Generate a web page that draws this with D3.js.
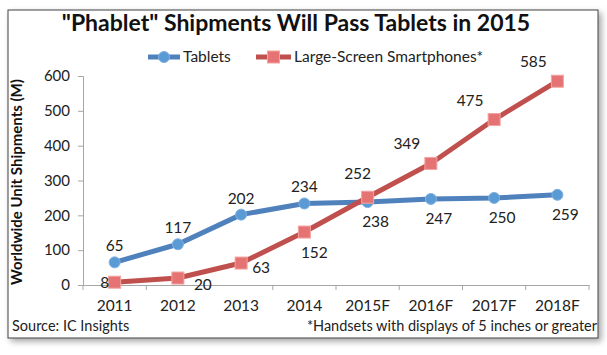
<!DOCTYPE html>
<html><head><meta charset="utf-8">
<script src="https://cdn.jsdelivr.net/npm/d3@7"></script>
<style>body{margin:0;background:#fff;}svg{display:block;font-family:Lato,"Open Sans",sans-serif;}</style>
</head><body>
<svg id="c" width="607" height="355"></svg>
<script>
const categories = ["2011","2012","2013","2014","2015F","2016F","2017F","2018F"];
const tablets = [65,117,202,234,238,247,250,259];
const phablets = [8,20,63,152,252,349,475,585];
const yTicks = [0,100,200,300,400,500,600];
const tabletLabelPos = ["above","above","above","above","below","below","below","below"];
const phabletLabelPos = ["left","belowright","right","belowright2","aboveleft","aboveleft2","aboveleft2","aboveleft2"];

const svg = d3.select("#c");
const defs = svg.append("defs");
const f = defs.append("filter").attr("id","sh").attr("x","-5%").attr("y","-5%").attr("width","115%").attr("height","115%");
f.append("feDropShadow").attr("dx",3).attr("dy",3).attr("stdDeviation",3).attr("flood-color","#000").attr("flood-opacity",0.35);

svg.append("rect").attr("x",8).attr("y",10).attr("width",590).attr("height",328)
  .attr("fill","#fff").attr("stroke","#404040").attr("stroke-width",1).attr("filter","url(#sh)");

const x = d3.scaleBand().domain(categories).range([83,589]);
const y = d3.scaleLinear().domain([0,600]).range([285,76]);

svg.append("text").attr("x",296).attr("y",31).attr("text-anchor","middle")
  .attr("font-size",23).attr("font-weight",700).attr("fill","#111")
  .text('"Phablet" Shipments Will Pass Tablets in 2015');

const ya = svg.append("g").attr("transform","translate(83,0)")
  .call(d3.axisLeft(y).tickValues(yTicks).tickSize(5).tickPadding(8));
ya.select(".domain").attr("stroke","#a6a6a6");
ya.selectAll(".tick line").attr("stroke","#a6a6a6");
ya.selectAll("text").attr("font-size",15).attr("fill","#222").attr("font-family","Lato,sans-serif");

const xa = svg.append("g").attr("transform","translate(0,285)")
  .call(d3.axisBottom(x).tickSize(0).tickPadding(15));
xa.select(".domain").attr("stroke","#a6a6a6");
xa.selectAll("text").attr("font-size",15.5).attr("fill","#222").attr("font-family","Lato,sans-serif");
const bounds = categories.map(c=>x(c)).concat([x.range()[1]]);
xa.selectAll(".bt").data(bounds).enter().append("line")
  .attr("x1",d=>d).attr("x2",d=>d).attr("y1",0).attr("y2",5).attr("stroke","#a6a6a6");

svg.append("text").attr("transform","translate(22,182) rotate(-90)").attr("text-anchor","middle")
  .attr("font-size",15).attr("font-weight",700).attr("fill","#111")
  .text("Worldwide Unit Shipments (M)");

const cx = c => x(c) + x.bandwidth()/2;
const line = d3.line().x((d,i)=>cx(categories[i])).y(d=>y(d));

const blue = "#4f81bd", blueM = "#5b9bd5", red = "#c0504d", redM = "#e57373";

svg.append("path").datum(tablets).attr("d",line).attr("fill","none").attr("stroke",blue).attr("stroke-width",5).attr("stroke-linejoin","round");
svg.append("path").datum(phablets).attr("d",line).attr("fill","none").attr("stroke",red).attr("stroke-width",5).attr("stroke-linejoin","round");

svg.selectAll(".tm").data(tablets).enter().append("circle")
  .attr("cx",(d,i)=>cx(categories[i])).attr("cy",d=>y(d)).attr("r",5.5)
  .attr("fill",blueM).attr("stroke","#7fb0e0").attr("stroke-width",1);
svg.selectAll(".pm").data(phablets).enter().append("rect")
  .attr("x",(d,i)=>cx(categories[i])-6).attr("y",d=>y(d)-6).attr("width",12).attr("height",12)
  .attr("fill",redM).attr("stroke","#f4a3a0").attr("stroke-width",1);

const off = {
  above:[0,-16], below:[8,20], left:[-10,1], belowright:[25,7], right:[20,5],
  belowright2:[10,21], aboveleft:[-10,-23], aboveleft2:[-24,-19]
};
function labels(data,pos){
  svg.selectAll(null).data(data).enter().append("text")
    .attr("x",(d,i)=>cx(categories[i])+off[pos[i]][0])
    .attr("y",(d,i)=>y(d)+off[pos[i]][1]+5)
    .attr("text-anchor","middle").attr("font-size",15.5).attr("fill","#222")
    .text(d=>d);
}
labels(tablets,tabletLabelPos);
labels(phablets,phabletLabelPos);

const lg = svg.append("g");
lg.append("line").attr("x1",148).attr("x2",180).attr("y1",57).attr("y2",57).attr("stroke",blue).attr("stroke-width",5);
lg.append("circle").attr("cx",164).attr("cy",57).attr("r",5.5).attr("fill",blueM).attr("stroke","#7fb0e0");
lg.append("text").attr("x",183).attr("y",62).attr("font-size",15.5).attr("fill","#222").text("Tablets");
lg.append("line").attr("x1",256).attr("x2",291).attr("y1",57).attr("y2",57).attr("stroke",red).attr("stroke-width",5);
lg.append("rect").attr("x",267.5).attr("y",51).attr("width",12).attr("height",12).attr("fill",redM).attr("stroke","#f4a3a0");
lg.append("text").attr("x",294).attr("y",62).attr("font-size",15.5).attr("fill","#222").text("Large-Screen Smartphones*");

svg.append("text").attr("x",12).attr("y",331).attr("font-size",14.5).attr("fill","#222").text("Source: IC Insights");
svg.append("text").attr("x",597).attr("y",331).attr("text-anchor","end").attr("font-size",14.5).attr("fill","#222").text("*Handsets with displays of 5 inches or greater");
</script>
</body></html>
